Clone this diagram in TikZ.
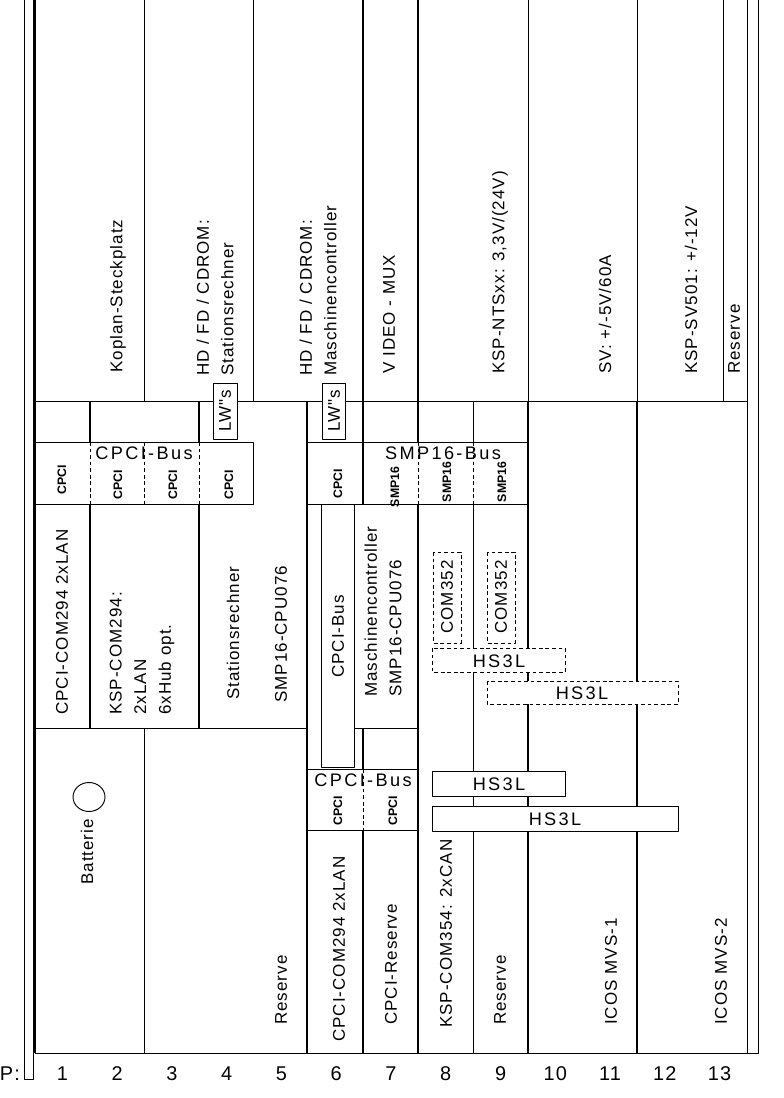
\documentclass[tikz,border=0pt]{standalone}
\usepackage{fontspec}
\setmainfont{Liberation Sans}
\newfontfamily\lblfont{Liberation Sans}[LetterSpace=6]
\newfontfamily\busfont{Liberation Sans}[LetterSpace=13]

\begin{document}
\begin{tikzpicture}[x=0.03cm,y=-0.03cm, line join=round,
	thinln/.style={line width=0.8pt},
	thickln/.style={line width=1.8pt},
	dashln/.style={line width=0.8pt, dash pattern=on 3.2pt off 2.4pt},
	wbox/.style={draw, fill=white, line width=0.8pt},
	dbox/.style={wbox, dash pattern=on 3.2pt off 2.4pt},
	lbl/.style={rotate=90, anchor=west, inner sep=0pt, align=left, font=\lblfont\fontsize{14.5}{21}\selectfont},
	mid/.style={lbl, anchor=center},
	cpcilbl/.style={rotate=90, inner sep=0pt, font=\fontsize{10.5}{12}\selectfont\bfseries},
	bus/.style={inner sep=0pt, font=\busfont\fontsize{15.5}{17}\selectfont},
	num/.style={inner sep=0pt, font=\lblfont\fontsize{17}{19}\selectfont}]
	\def\w{54.77}
	\useasboundingbox (0,0) rectangle (783,1098);
	% frame
	\draw[thinln] (24,0)--(24,1079)--(33,1079)--(33,0);
	\draw[thickln] (35,0)--(35,1053);
	\draw[thinln] (35,1053)--(758,1053)--(758,0) (747,0)--(747,1053);
	% upper part
	\draw[thinln] (144,0)--(144,401) (253,0)--(253,401) (528,0)--(528,401)
		(637,0)--(637,401) (723,0)--(723,401);
	\draw[thickln] (363,0)--(363,504) (418,0)--(418,442);
	\draw[thinln] (35,401)--(747,401);
	% bus rows
	\draw[thinln] (35,442)--(253,442)--(253,504)--(35,504);
	\draw[thinln] (307,442)--(528,442) (307,504)--(528,504);
	\draw[thickln] (90,401)--(90,442) (90,504)--(90,728) (199,401)--(199,442) (199,504)--(199,728)
		(307,401)--(307,1053) (418,504)--(418,1053) (528,401)--(528,1053) (637,401)--(637,1053)
		(363,728)--(363,769) (363,830)--(363,1053);
	\draw[thinln] (473,401)--(473,442) (473,504)--(473,1053) (144,728)--(144,1053);
	\draw[dashln] (90,442)--(90,504) (144,442)--(144,504) (199,442)--(199,504)
		(418,442)--(418,504) (473,442)--(473,504) (363,769)--(363,830);
	\draw[thinln] (35,728)--(307,728) (354,728)--(418,728) (307,769)--(418,769) (307,830)--(418,830);
	\draw[wbox] (321,504) rectangle (354,767);
	% drives
	\draw[wbox] (213,383) rectangle (237,439);
	\draw[wbox] (322,383) rectangle (345,439);
	\node[mid] (lwA) at (225,411) {LW"s};
	\node[mid] (lwB) at (334,411) {LW"s};
	% upper labels
	\node[lbl] (koplan) at (118,373) {Koplan-Steckplatz};
	\node[lbl] (hdA) at (215,376) {HD / FD / CDROM:\\Stationsrechner};
	\node[lbl] (hdB) at (318,376) {HD / FD / CDROM:\\Maschinencontroller};
	\node[lbl] (video) at (389,374) {V IDEO - MUX};
	\node[lbl] (nts) at (500,374) {KSP-NTSxx: 3,3V/(24V)};
	\node[lbl] (sv) at (605,374) {SV: +/-5V/60A};
	\node[lbl] (svb) at (691,374) {KSP-SV501: +/-12V};
	\node[lbl] (resT) at (734,374) {Reserve};
	% bus labels
	\node[cpcilbl] (cA) at (62,480) {CPCI};
	\node[cpcilbl] (cB) at (118,485) {CPCI};
	\node[cpcilbl] (cC) at (173,485) {CPCI};
	\node[cpcilbl] (cD) at (229,485) {CPCI};
	\node[cpcilbl] (cE) at (338,484) {CPCI};
	\node[cpcilbl] (sA) at (395,487) {SMP16};
	\node[cpcilbl] (sB) at (447,482) {SMP16};
	\node[cpcilbl] (sC) at (502,482) {SMP16};
	\node[cpcilbl] (cF) at (338,811) {CPCI};
	\node[cpcilbl] (cG) at (393,811) {CPCI};
	\node[bus] (busA) at (144,453) {CPCI-Bus};
	\node[bus] (busB) at (443,453) {SMP16-Bus};
	\node[bus] (busC) at (363,780) {CPCI-Bus};
	% boards
	\node[lbl] (comA) at (62,715) {CPCI-COM294 2xLAN};
	\node[lbl] (kspA) at (142,715) {KSP-COM294:\\2xLAN\\6xHub opt.};
	\node[lbl] (stat) at (233,700) {Stationsrechner};
	\node[lbl] (cpuA) at (281,703) {SMP16-CPU076};
	\node[lbl] (cbus) at (338,678) {CPCI-Bus};
	\node[lbl] (masch) at (383,697) {Maschinencontroller\\SMP16-CPU076};
	\draw[dbox] (433,552) rectangle (461,643);
	\draw[dbox] (487,552) rectangle (515,643);
	\node[mid] (comC) at (447,597) {COM352};
	\node[mid] (comD) at (501,597) {COM352};
	\draw[dbox] (432,648) rectangle (565,672);
	\draw[dbox] (487,681) rectangle (678,704);
	\draw[wbox] (432,771) rectangle (565,796);
	\draw[wbox] (432,806) rectangle (678,831);
	\node[bus] (hsA) at (499,661) {HS3L};
	\node[bus] (hsB) at (582,693) {HS3L};
	\node[bus] (hsC) at (499,784) {HS3L};
	\node[bus] (hsD) at (555,819) {HS3L};
	% lower labels
	\draw[thinln] (89,797) ellipse [x radius=16, y radius=14.5];
	\node[lbl] (batt) at (87,885) {Batterie};
	\node[lbl] (resA) at (281,1025) {Reserve};
	\node[lbl] (comB) at (339,1042) {CPCI-COM294 2xLAN};
	\node[lbl] (cres) at (391,1025) {CPCI-Reserve};
	\node[lbl] (kspB) at (446,1028) {KSP-COM354: 2xCAN};
	\node[lbl] (resB) at (500,1025) {Reserve};
	\node[lbl] (mvsA) at (611,1025) {ICOS MVS-1};
	\node[lbl] (mvsB) at (721,1025) {ICOS MVS-2};
	% slot numbers
	\node[num] (plbl) at (10,1074) {P:};
	\foreach \n in {1,...,13}
		\node[num] (p\n) at ({35+(\n-0.5)*\w},1074) {\n};
\end{tikzpicture}
\end{document}
